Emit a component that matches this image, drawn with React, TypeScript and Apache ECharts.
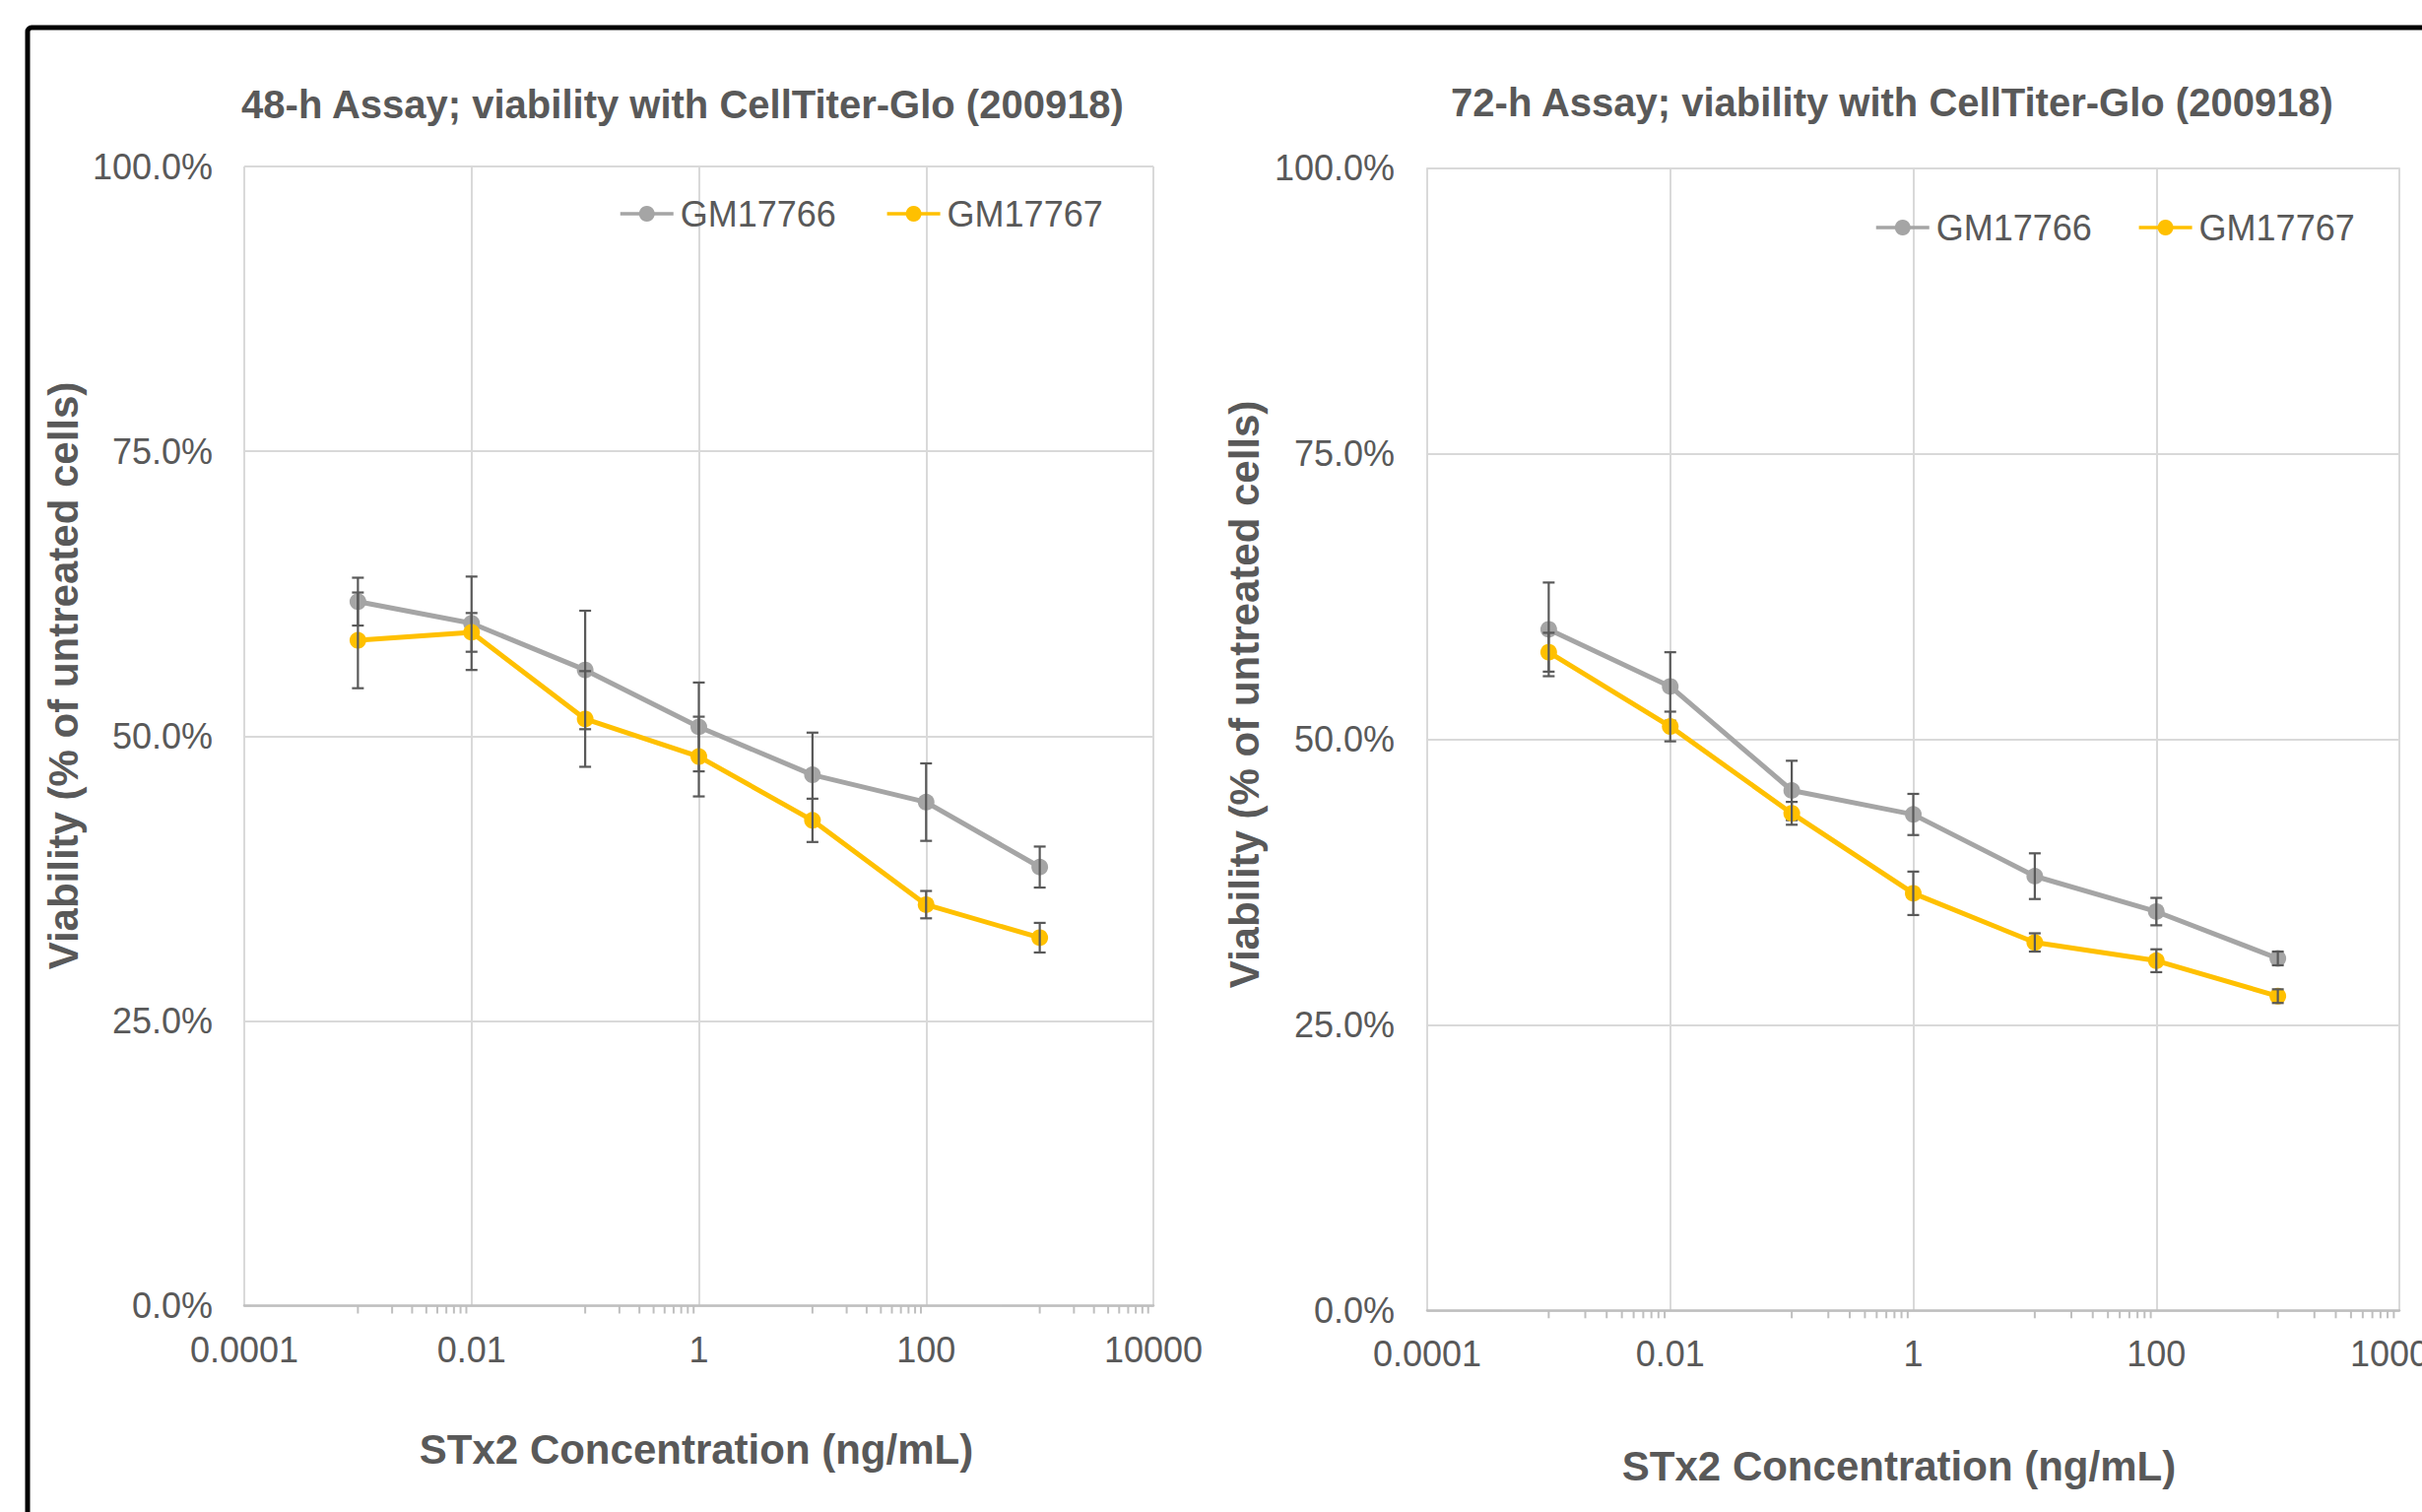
import React, { useEffect, useRef } from "react";
import * as echarts from "echarts";

// ---------- data ----------
const concentrations = [0.001, 0.01, 0.1, 1, 10, 100, 1000];

const h48_GM17766 = [61.8, 59.9, 55.8, 50.8, 46.6, 44.2, 38.5];
const h48_GM17766_err = [2.1, 4.1, 5.2, 3.9, 3.7, 3.4, 1.8];
const h48_GM17767 = [58.4, 59.1, 51.5, 48.2, 42.6, 35.2, 32.3];
const h48_GM17767_err = [4.2, 1.7, 4.2, 3.5, 1.9, 1.2, 1.3];

const h72_GM17766 = [59.6, 54.6, 45.5, 43.4, 38.0, 34.9, 30.8];
const h72_GM17766_err = [4.1, 3.0, 2.6, 1.8, 2.0, 1.2, 0.6];
const h72_GM17767 = [57.6, 51.1, 43.5, 36.5, 32.2, 30.6, 27.5];
const h72_GM17767_err = [1.7, 1.3, 1.0, 1.9, 0.8, 1.0, 0.6];

const seriesNames = ["GM17766", "GM17767"];
const xMin = 0.0001;
const xMax = 10000;
const yTicks = [0, 25, 50, 75, 100];
const minorTickValues = [
  0.001, 0.002, 0.003, 0.004, 0.005, 0.006, 0.007, 0.008, 0.009,
  0.1, 0.2, 0.3, 0.4, 0.5, 0.6, 0.7, 0.8, 0.9,
  10, 20, 30, 40, 50, 60, 70, 80, 90,
  1000, 2000, 3000, 4000, 5000, 6000, 7000, 8000, 9000,
];

const titles = [
  "48-h Assay; viability with CellTiter-Glo (200918)",
  "72-h Assay; viability with CellTiter-Glo (200918)",
];
const xTitle = "STx2 Concentration (ng/mL)";
const yTitle = "Viability (% of untreated cells)";

// ---------- styles ----------
const FONT = "'Liberation Sans', Arial, Helvetica, sans-serif";
const TEXT = "#595959";
const GRAY = "#A5A5A5";
const GOLD = "#FFC000";
const GRID = "#D9D9D9";
const AXIS = "#BFBFBF";
const ERR = "#595959";

function fmtX(v: number) {
  return String(Number(v.toPrecision(6)));
}

function errorBarSeries(g: number, vals: number[], errs: number[], z: number) {
  return {
    type: "custom",
    xAxisIndex: g,
    yAxisIndex: g,
    silent: true,
    clip: false,
    z,
    encode: { x: 0, y: 1 },
    data: concentrations.map((c, i) => [c, vals[i], errs[i]]),
    renderItem: (params: any, api: any) => {
      const x = api.value(0);
      const y = api.value(1);
      const e = api.value(2);
      const top = api.coord([x, y + e]);
      const bot = api.coord([x, y - e]);
      const hw = 6;
      const st = { stroke: ERR, lineWidth: 2.2 };
      return {
        type: "group",
        children: [
          { type: "line", shape: { x1: top[0], y1: top[1], x2: bot[0], y2: bot[1] }, style: st },
          { type: "line", shape: { x1: top[0] - hw, y1: top[1], x2: top[0] + hw, y2: top[1] }, style: st },
          { type: "line", shape: { x1: bot[0] - hw, y1: bot[1], x2: bot[0] + hw, y2: bot[1] }, style: st },
        ],
      };
    },
  };
}

function minorTickSeries(g: number) {
  return {
    type: "custom",
    xAxisIndex: g,
    yAxisIndex: g,
    silent: true,
    clip: false,
    z: 1,
    encode: { x: 0, y: 1 },
    data: minorTickValues.map((v) => [v, 0]),
    renderItem: (params: any, api: any) => {
      const p = api.coord([api.value(0), 0]);
      return {
        type: "line",
        shape: { x1: p[0], y1: p[1], x2: p[0], y2: p[1] + 8 },
        style: { stroke: AXIS, lineWidth: 2 },
      };
    },
  };
}

function lineSeries(g: number, name: string, vals: number[], color: string, z: number) {
  return {
    type: "line",
    name,
    xAxisIndex: g,
    yAxisIndex: g,
    z,
    data: concentrations.map((c, i) => [c, vals[i]]),
    symbol: "circle",
    symbolSize: 17,
    showSymbol: true,
    itemStyle: { color },
    lineStyle: { color, width: 5 },
  };
}

function xAxisDef(g: number, margin: number) {
  return {
    type: "log",
    logBase: 100,
    gridIndex: g,
    min: xMin,
    max: xMax,
    splitNumber: 4,
    axisLine: { show: true, lineStyle: { color: AXIS, width: 2.5 } },
    axisTick: { show: false },
    minorTick: { show: false },
    axisLabel: {
      fontSize: 36,
      color: TEXT,
      fontFamily: FONT,
      margin,
      showMinLabel: true,
      showMaxLabel: true,
      hideOverlap: false,
      formatter: (v: number) => fmtX(v),
    },
    splitLine: { show: true, lineStyle: { color: GRID, width: 2 } },
  };
}

function yAxisDef(g: number, margin: number) {
  return {
    type: "value",
    gridIndex: g,
    min: yTicks[0],
    max: yTicks[yTicks.length - 1],
    interval: 25,
    axisLine: { show: false },
    axisTick: { show: false },
    axisLabel: {
      fontSize: 36,
      color: TEXT,
      fontFamily: FONT,
      margin,
      formatter: (v: number) => v.toFixed(1) + "%",
    },
    splitLine: { show: true, lineStyle: { color: GRID, width: 2 } },
  };
}

function legendDef(left: number, top: number, gap: number) {
  return {
    left,
    top,
    orient: "horizontal",
    data: seriesNames,
    itemWidth: 54,
    itemHeight: 20,
    itemGap: gap,
    padding: 0,
    lineStyle: { width: 3.5 },
    textStyle: { fontSize: 36, color: TEXT, fontFamily: FONT, padding: [0, 0, 0, 2] },
    selectedMode: false,
  };
}

function textEl(text: string, x: number, y: number, size: number, rotation = 0) {
  return {
    type: "text",
    x,
    y,
    rotation,
    silent: true,
    style: {
      text,
      fontSize: size,
      fontWeight: "bold",
      fontFamily: FONT,
      fill: TEXT,
      align: "center",
      verticalAlign: "middle",
    },
  };
}

export default function App() {
  const ref = useRef<HTMLDivElement>(null);

  useEffect(() => {
    if (!ref.current) return;
    const chart = echarts.init(ref.current, null, { renderer: "svg" });
    const option: any = {
      animation: false,
      backgroundColor: "#ffffff",
      textStyle: { fontFamily: FONT },
      grid: [
        { left: 248, top: 169, width: 923, height: 1156.5, outerBoundsMode: "none", containLabel: false },
        { left: 1449, top: 170.3, width: 987, height: 1160, outerBoundsMode: "none", containLabel: false },
      ],
      xAxis: [xAxisDef(0, 27), xAxisDef(1, 26)],
      yAxis: [yAxisDef(0, 32), yAxisDef(1, 33)],
      legend: [legendDef(628, 199, 50), legendDef(1903, 213, 46)],
      graphic: [
        {
          type: "rect",
          silent: true,
          z: -10,
          shape: { x: 28, y: 28, width: 3000, height: 3000, r: 4 },
          style: { fill: "none", stroke: "#000000", lineWidth: 5 },
        },
        textEl(titles[0], 693, 106, 40),
        textEl(titles[1], 1921, 104, 40),
        textEl(xTitle, 707, 1471, 42),
        textEl(xTitle, 1928, 1488, 42),
        textEl(yTitle, 64, 686, 42, Math.PI / 2),
        textEl(yTitle, 1263, 705, 42, Math.PI / 2),
      ],
      series: [
        minorTickSeries(0),
        lineSeries(0, seriesNames[0], h48_GM17766, GRAY, 4),
        errorBarSeries(0, h48_GM17766, h48_GM17766_err, 5),
        lineSeries(0, seriesNames[1], h48_GM17767, GOLD, 6),
        errorBarSeries(0, h48_GM17767, h48_GM17767_err, 7),
        minorTickSeries(1),
        lineSeries(1, seriesNames[0], h72_GM17766, GRAY, 4),
        errorBarSeries(1, h72_GM17766, h72_GM17766_err, 5),
        lineSeries(1, seriesNames[1], h72_GM17767, GOLD, 6),
        errorBarSeries(1, h72_GM17767, h72_GM17767_err, 7),
      ],
    };
    chart.setOption(option);
    return () => chart.dispose();
  }, []);

  return (
    <div
      ref={ref}
      style={{ position: "absolute", left: 0, top: 0, width: 2459, height: 1535, background: "#fff" }}
    />
  );
}
